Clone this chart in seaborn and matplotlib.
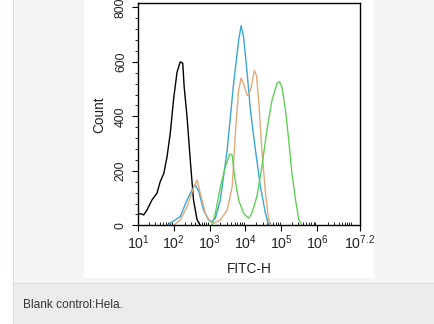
import numpy as np
import pandas as pd
import matplotlib
matplotlib.use("Agg")
import matplotlib.pyplot as plt
from matplotlib.patches import Rectangle
from matplotlib.ticker import FixedLocator, MultipleLocator, LogLocator, NullFormatter
import seaborn as sns

# Histogram traces: FITC-H intensity given as log10 exponent, and event counts
black_exp = [1.00, 1.10, 1.16, 1.25, 1.39, 1.53, 1.62, 1.72, 1.81, 1.90, 2.00, 2.09,
             2.18, 2.25, 2.29, 2.37, 2.46, 2.55, 2.65, 2.74]
black_cnt = [42, 42, 38, 56, 93, 118, 160, 190, 251, 337, 470, 562,
             600, 595, 507, 398, 239, 93, 20, 0]

blue_exp = [1.81, 2.18, 2.37, 2.51, 2.60, 2.70, 2.83, 2.97, 3.07, 3.16, 3.30, 3.49,
            3.67, 3.81, 3.88, 3.95, 4.05, 4.14, 4.28, 4.42, 4.56, 4.65]
blue_cnt = [0, 32, 93, 130, 148, 123, 56, 20, 13, 26, 93, 276,
            520, 678, 733, 690, 556, 422, 276, 141, 44, 0]

orange_exp = [2.00, 2.18, 2.37, 2.56, 2.65, 2.74, 2.88, 3.02, 3.11, 3.30, 3.49, 3.63,
              3.72, 3.81, 3.88, 3.95, 4.05, 4.09, 4.16, 4.25, 4.31, 4.37, 4.46, 4.56,
              4.65, 4.70]
orange_cnt = [0, 20, 68, 141, 166, 117, 44, 13, 7, 20, 56, 141,
              337, 495, 541, 520, 477, 477, 507, 568, 550, 458, 276, 117,
              20, 0]

green_exp = [3.07, 3.16, 3.30, 3.44, 3.56, 3.63, 3.70, 3.81, 3.95, 4.09, 4.18, 4.32,
             4.46, 4.60, 4.74, 4.88, 4.95, 5.02, 5.12, 5.21, 5.30, 5.40, 5.49, 5.58]
green_cnt = [0, 44, 141, 215, 261, 258, 178, 93, 44, 26, 44, 105,
             215, 349, 458, 520, 528, 507, 422, 312, 190, 93, 20, 0]

sample_names = ["Blank control", "Sample A", "Sample B", "Sample C"]
sample_colors = ["#000000", "#3aa6d2", "#e2a878", "#62cf58"]

x_tick_exps = [1, 2, 3, 4, 5, 6, 7.2]
x_tick_labels = [r"$10^{1}$", r"$10^{2}$", r"$10^{3}$", r"$10^{4}$",
                 r"$10^{5}$", r"$10^{6}$", r"$10^{7.2}$"]
y_ticks = [0, 200, 400, 600, 800]

caption = "Blank control:Hela."

frames = []
for name, ex, ct in zip(sample_names,
                        [black_exp, blue_exp, orange_exp, green_exp],
                        [black_cnt, blue_cnt, orange_cnt, green_cnt]):
    frames.append(pd.DataFrame({"FITC-H": 10.0 ** np.asarray(ex),
                                "Count": ct, "sample": name}))
df = pd.concat(frames, ignore_index=True)

plt.rcParams["font.family"] = ["Liberation Sans", "DejaVu Sans"]
plt.rcParams["mathtext.fontset"] = "custom"
plt.rcParams["mathtext.rm"] = "Liberation Sans"
plt.rcParams["mathtext.it"] = "Liberation Sans"

W, H = 434, 324
fig = plt.figure(figsize=(W / 100, H / 100), dpi=100)
fig.patch.set_facecolor("white")


def px_rect(x0, y0, x1, y1, color):
    fig.add_artist(Rectangle((x0 / W, 1 - y1 / H), (x1 - x0) / W, (y1 - y0) / H,
                             transform=fig.transFigure, facecolor=color,
                             edgecolor="none", zorder=-10))


# page panel, borders, caption strip and the white chart card
px_rect(13, 0, 434, 283, "#f4f5f5")
px_rect(13, 0, 14, 324, "#dcdcdc")
px_rect(13, 283, 434, 284, "#d9d9d9")
px_rect(14, 284, 434, 324, "#ececec")
px_rect(84, 0, 374, 277.5, "#ffffff")

ax = fig.add_axes([138 / W, 1 - 225.3 / H, 222 / W, 222 / H])
ax.set_facecolor("white")

sns.lineplot(data=df, x="FITC-H", y="Count", hue="sample", hue_order=sample_names,
             palette=sample_colors, estimator=None, sort=False, linewidth=1.0,
             legend=False, ax=ax)

ax.set_xscale("log")
ax.set_xlim(10, 10 ** 7.2)
ax.set_ylim(0, 815)

ax.xaxis.set_major_locator(FixedLocator([10.0 ** e for e in x_tick_exps]))
ax.set_xticklabels(x_tick_labels)
ax.xaxis.set_minor_locator(LogLocator(base=10, subs=np.arange(2, 10), numticks=20))
ax.xaxis.set_minor_formatter(NullFormatter())

ax.set_yticks(y_ticks)
ax.set_yticklabels([str(v) for v in y_ticks], rotation=90, va="center")
ax.yaxis.set_minor_locator(MultipleLocator(40))

ax.tick_params(axis="x", which="major", direction="out", length=4, width=0.8,
               labelsize=10.2, pad=2, colors="black")
ax.tick_params(axis="x", which="minor", direction="in", length=2, width=0.6)
ax.tick_params(axis="y", which="major", direction="out", length=4, width=0.8,
               labelsize=8.8, pad=4, colors="black")
ax.tick_params(axis="y", which="minor", direction="out", length=2, width=0.6)
for lbl in ax.get_xticklabels():
    lbl.set_color("#222222")
for lbl in ax.get_yticklabels():
    lbl.set_color("#222222")

for sp in ax.spines.values():
    sp.set_visible(True)
    sp.set_color("black")
    sp.set_linewidth(1.0)

ax.set_xlabel("FITC-H", fontsize=9.8, labelpad=7, color="#222222")
ax.set_ylabel("Count", fontsize=9.8, labelpad=6, color="#222222")

fig.text(23 / W, 1 - 305 / H, caption, fontsize=8.6, color="#333333",
         ha="left", va="center")

fig.savefig("out.png", dpi=100, facecolor=fig.get_facecolor())
